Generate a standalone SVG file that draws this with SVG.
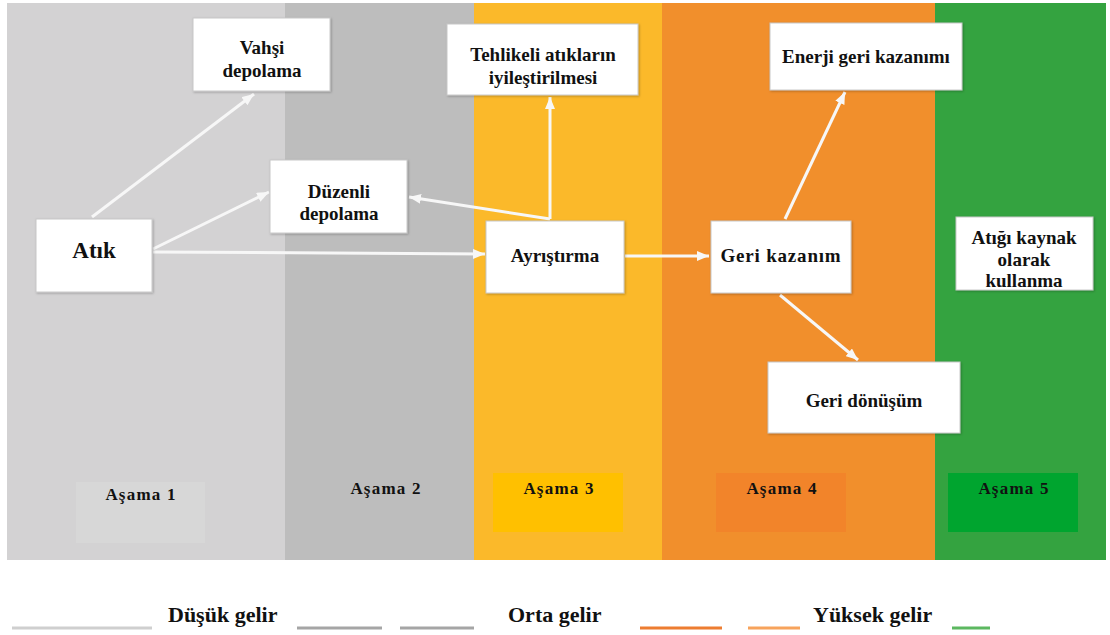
<svg xmlns="http://www.w3.org/2000/svg" width="1110" height="635" viewBox="0 0 1110 635">
<defs>
<marker id="ah" viewBox="0 0 12 10" refX="12" refY="5" markerWidth="12" markerHeight="10" markerUnits="userSpaceOnUse" orient="auto">
<path d="M0,0 L12,5 L0,10 z" fill="#f7f7f7"/>
</marker>
<filter id="sh" x="-10%" y="-10%" width="120%" height="120%">
<feDropShadow dx="1" dy="1" stdDeviation="1" flood-color="#000" flood-opacity="0.25"/>
</filter>
</defs>
<style>
.box{fill:#fff;stroke:#c8c8c8;stroke-width:1;filter:url(#sh)}
text{font-family:'Liberation Serif','DejaVu Serif',serif;font-weight:bold;fill:#111}
.t{font-size:19px;text-anchor:middle}
.st{font-size:17px;letter-spacing:1.2px;text-anchor:middle}
.lg{font-size:22px}
.c{stroke:#f7f7f7;stroke-width:3;fill:none;marker-end:url(#ah)}
.ll{stroke-width:3}
</style>
<rect width="1110" height="635" fill="#fff"/>
<g id="stages">
<rect x="7" y="3" width="278" height="557" fill="#d3d2d3"/>
<rect x="285" y="3" width="189" height="557" fill="#bdbdbd"/>
<rect x="474" y="3" width="188" height="557" fill="#fbb92a"/>
<rect x="662" y="3" width="273" height="557" fill="#f18f2c"/>
<rect x="935" y="3" width="171" height="557" fill="#34a340"/>
</g>
<g id="stage-labels">
<rect x="76" y="482" width="129" height="61" fill="#d7d7d7"/>
<text class="st" x="141" y="500">Aşama 1</text>
<text class="st" x="386" y="494">Aşama 2</text>
<rect x="493" y="473" width="130" height="59" fill="#ffc000"/>
<text class="st" x="559" y="494">Aşama 3</text>
<rect x="716" y="473" width="130" height="59" fill="#f2842a"/>
<text class="st" x="782" y="494">Aşama 4</text>
<rect x="948" y="473" width="130" height="59" fill="#00a52f"/>
<text class="st" x="1014" y="494">Aşama 5</text>
</g>
<g id="connectors">
<line class="c" x1="92" y1="217" x2="254" y2="94"/>
<line class="c" x1="153" y1="249" x2="269" y2="192"/>
<line class="c" x1="153" y1="252" x2="485" y2="254"/>
<line class="c" x1="550" y1="219" x2="409" y2="197"/>
<line class="c" x1="550" y1="219" x2="550" y2="97"/>
<line class="c" x1="625" y1="256" x2="709" y2="256"/>
<line class="c" x1="785" y1="219" x2="845" y2="92"/>
<line class="c" x1="780" y1="295" x2="858" y2="360"/>
</g>
<g id="n-vahsi">
<rect class="box" x="193" y="18" width="137" height="73"/>
<text class="t" x="262" y="54">Vahşi</text>
<text class="t" x="262" y="77">depolama</text>
</g>
<g id="n-duzenli">
<rect class="box" x="270" y="160" width="137" height="73"/>
<text class="t" x="339" y="198">Düzenli</text>
<text class="t" x="339" y="220">depolama</text>
</g>
<g id="n-atik">
<rect class="box" x="36" y="219" width="116" height="73"/>
<text class="t" x="94" y="258" style="font-size:23px">Atık</text>
</g>
<g id="n-tehlikeli">
<rect class="box" x="447" y="24" width="191" height="71"/>
<text class="t" x="543" y="61">Tehlikeli atıkların</text>
<text class="t" x="543" y="84">iyileştirilmesi</text>
</g>
<g id="n-ayristirma">
<rect class="box" x="486" y="221" width="138" height="72"/>
<text class="t" x="555" y="262">Ayrıştırma</text>
</g>
<g id="n-gerikazanim">
<rect class="box" x="711" y="221" width="140" height="72"/>
<text class="t" x="781" y="262" style="letter-spacing:0.8px">Geri kazanım</text>
</g>
<g id="n-enerji">
<rect class="box" x="770" y="23" width="192" height="67"/>
<text class="t" x="866" y="63">Enerji geri kazanımı</text>
</g>
<g id="n-kaynak">
<rect class="box" x="956" y="217" width="137" height="73"/>
<text class="t" x="1024" y="244">Atığı kaynak</text>
<text class="t" x="1024" y="266">olarak</text>
<text class="t" x="1024" y="287">kullanma</text>
</g>
<g id="n-geridonusum">
<rect class="box" x="768" y="362" width="192" height="71"/>
<text class="t" x="864" y="407">Geri dönüşüm</text>
</g>
<g id="legend">
<line class="ll" x1="12" y1="628" x2="152" y2="628" stroke="#cfcfcf"/>
<text class="lg" x="168" y="622">Düşük gelir</text>
<line class="ll" x1="297" y1="628" x2="382" y2="628" stroke="#a5a5a5"/>
<line class="ll" x1="400" y1="628" x2="474" y2="628" stroke="#a5a5a5"/>
<text class="lg" x="508" y="622">Orta gelir</text>
<line class="ll" x1="640" y1="628" x2="722" y2="628" stroke="#ed7d31"/>
<line class="ll" x1="748" y1="628" x2="800" y2="628" stroke="#f7a35c"/>
<text class="lg" x="813" y="622">Yüksek gelir</text>
<line class="ll" x1="952" y1="628" x2="990" y2="628" stroke="#5cb860"/>
</g>
</svg>
